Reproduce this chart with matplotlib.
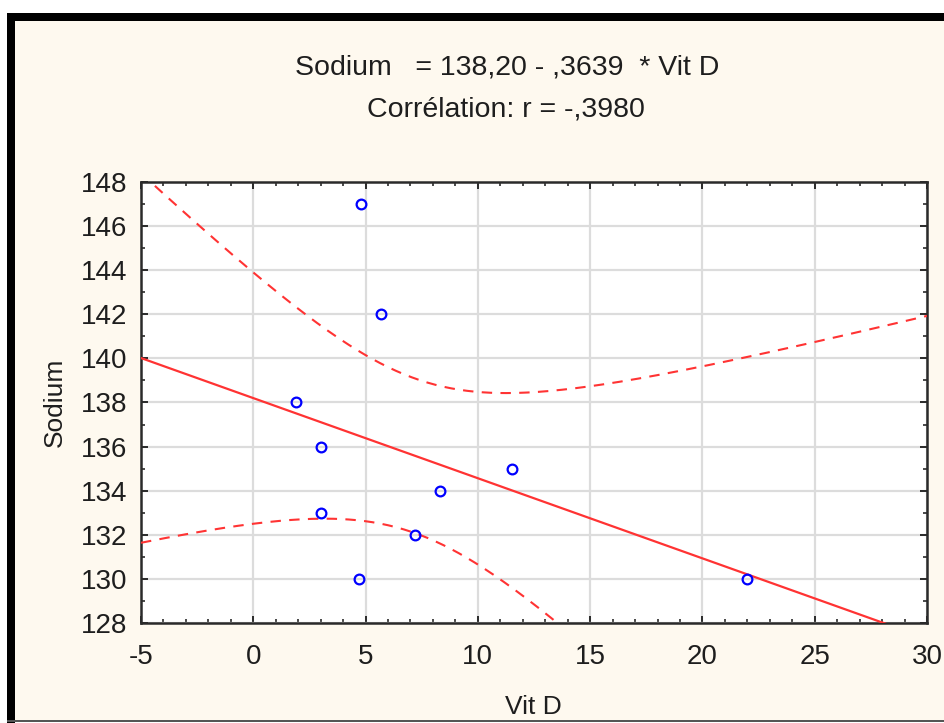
import numpy as np
import matplotlib
matplotlib.use("Agg")
import matplotlib.pyplot as plt
from matplotlib.patches import Rectangle
from matplotlib.ticker import MultipleLocator

plt.rcParams['font.family'] = ['Liberation Sans', 'DejaVu Sans']
plt.rcParams['axes.unicode_minus'] = False

#_________data_______________________________
vit_d = [4.8, 5.7, 1.9, 3.0, 3.0, 4.7, 7.2, 8.3, 11.5, 22.0]
sodium = [147, 142, 138, 136, 133, 130, 132, 134, 135, 130]

intercept = 138.20
slope = -0.3639
band_t = 2.11         # band multiplier, matched to the drawn dashed curves

title_eq = "Sodium   = 138,20 - ,3639  * Vit D"
title_r = "Corrélation: r = -,3980"
x_label = "Vit D"
y_label = "Sodium"
x_ticks = [-5, 0, 5, 10, 15, 20, 25, 30]
y_ticks = [128, 130, 132, 134, 136, 138, 140, 142, 144, 146, 148]
#____________________________________________

W, H = 944, 723
cream = "#fef9ef"
red = "#ff3333"
txt = "#1e1e1e"

fig = plt.figure(figsize=(W / 100, H / 100), dpi=100, facecolor="white")

# background panel + black frame (pixel units -> figure fraction)
def px_rect(x0, y0, x1, y1, color):
    fig.add_artist(Rectangle((x0 / W, 1 - y1 / H), (x1 - x0) / W, (y1 - y0) / H,
                             transform=fig.transFigure, facecolor=color,
                             edgecolor="none", zorder=-10))

px_rect(7, 13, W, 722, cream)
px_rect(7, 13, W, 21, "black")
px_rect(7, 13, 15, 723, "black")
px_rect(7, 720, W, 722, "#555555")

ax = fig.add_axes([141 / W, 1 - 622.7 / H, (927 - 141) / W, (622.7 - 182.3) / H])
ax.set_facecolor("white")

# regression line + confidence band of the mean
x = np.array(vit_d)
y = np.array(sodium)
n = len(x)
xs = np.linspace(-5, 30, 300)
fit = intercept + slope * xs
resid = y - (intercept + slope * x)
s = np.sqrt(np.sum(resid ** 2) / (n - 2))
sxx = np.sum((x - x.mean()) ** 2)
half = band_t * s * np.sqrt(1 / n + (xs - x.mean()) ** 2 / sxx)

ax.plot(xs, fit, color=red, lw=1.6, zorder=3)
ax.plot(xs, fit + half, color=red, lw=1.5, ls=(0, (5, 4)), zorder=3)
ax.plot(xs, fit - half, color=red, lw=1.5, ls=(0, (5, 4)), zorder=3)

ax.plot(vit_d, sodium, ls="none", marker="o", ms=7, mfc="none",
        mec="#0000ff", mew=1.6, zorder=4)

ax.set_xlim(-5, 30)
ax.set_ylim(128, 148)
ax.set_xticks(x_ticks)
ax.set_yticks(y_ticks)
ax.xaxis.set_minor_locator(MultipleLocator(1))
ax.yaxis.set_minor_locator(MultipleLocator(1))
ax.grid(True, which="major", color="#dcdcdc", lw=1.6, zorder=0)
ax.set_axisbelow(True)

for sp in ax.spines.values():
    sp.set_color("#2a2a2a")
    sp.set_linewidth(1.8)

ax.tick_params(which="both", direction="in", top=True, right=True, colors="#2a2a2a")
ax.tick_params(which="major", length=5, width=1.4, labelsize=20, labelcolor=txt)
ax.tick_params(which="minor", length=3, width=1.2)
ax.tick_params(axis="y", pad=10)
ax.tick_params(axis="x", pad=15)

fig.text(533 / W, 1 - 707 / H, x_label, ha="center", va="center", fontsize=19, color=txt)
fig.text(55 / W, 1 - 402 / H, y_label, ha="center", va="center", rotation=90,
         fontsize=19, color=txt)

fig.text(507 / W, 1 - 67 / H, title_eq, ha="center", va="center", fontsize=20.5, color=txt)
fig.text(506 / W, 1 - 109 / H, title_r, ha="center", va="center", fontsize=20.5, color=txt)

fig.savefig("out.png", dpi=100, facecolor=fig.get_facecolor())
